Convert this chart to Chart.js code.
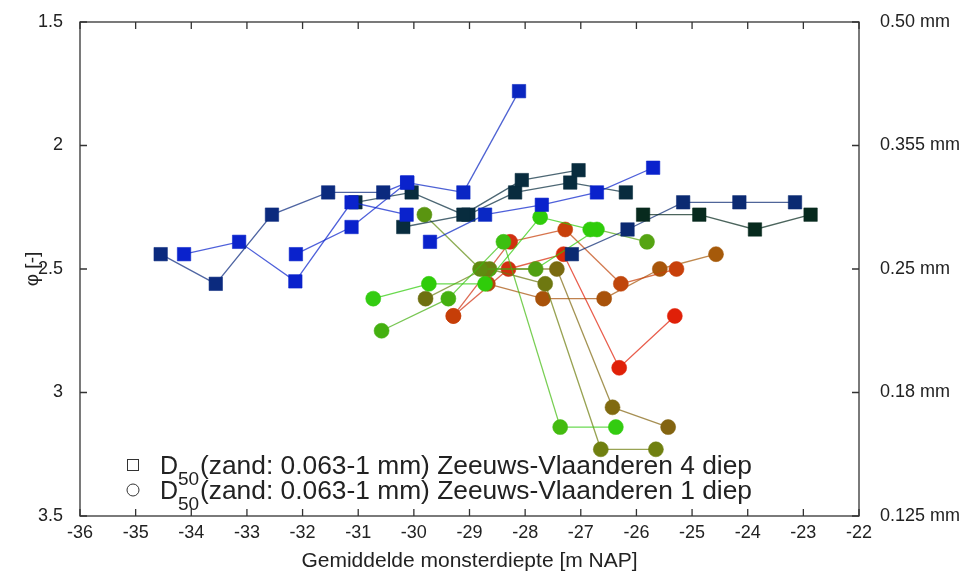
<!DOCTYPE html>
<html>
<head>
<meta charset="utf-8">
<title>D50 Zeeuws-Vlaanderen</title>
<script src="https://cdn.jsdelivr.net/npm/chart.js"></script>
<style>
  html, body { margin: 0; padding: 0; background: #fff; }
  #chart { display: block; }
</style>
</head>
<body>
<canvas id="chart" width="970" height="579"></canvas>
<script>
// assen
const depthTicks = [-36, -35, -34, -33, -32, -31, -30, -29, -28, -27, -26, -25, -24, -23, -22];
const phiTicks = [1.5, 2, 2.5, 3, 3.5];
const mmLabels = ['0.50 mm', '0.355 mm', '0.25 mm', '0.18 mm', '0.125 mm'];
const legendText = ['(zand: 0.063-1 mm) Zeeuws-Vlaanderen 4 diep', '(zand: 0.063-1 mm) Zeeuws-Vlaanderen 1 diep'];

// Zeeuws-Vlaanderen 4 diep (vierkantjes): diepte [m NAP] en phi
const sqA_x = [-34.55, -33.56, -32.55, -31.54, -30.55, -30.12, -29.11, -28.11];
const sqA_y = [2.44, 2.56, 2.28, 2.19, 2.19, 2.15, 2.19, 1.78];
const sqB_x = [-34.13, -33.14, -32.13, -31.12, -30.13];
const sqB_y = [2.44, 2.39, 2.55, 2.23, 2.28];
const sqC_x = [-32.12, -31.12, -30.12];
const sqC_y = [2.44, 2.33, 2.15];
const sqD_x = [-29.71, -28.72, -27.70, -26.71, -25.70];
const sqD_y = [2.39, 2.28, 2.24, 2.19, 2.09];
const sqE_x = [-31.05, -30.04, -29.11, -28.06, -27.04];
const sqE_y = [2.23, 2.19, 2.28, 2.14, 2.10];
const sqF_x = [-30.19, -29.02, -28.18, -27.19, -26.19];
const sqF_y = [2.33, 2.28, 2.19, 2.15, 2.19];
const sqG_x = [-25.88, -24.87, -23.87, -22.87];
const sqG_y = [2.28, 2.28, 2.34, 2.28];
const sqH_x = [-27.16, -26.16, -25.16, -24.15, -23.15];
const sqH_y = [2.44, 2.34, 2.23, 2.23, 2.23];

// Zeeuws-Vlaanderen 1 diep (rondjes)
const ciG1_x = [-30.73, -29.73, -28.72, -27.73, -26.83];
const ciG1_y = [2.62, 2.56, 2.56, 2.29, 2.34];
const ciG2_x = [-30.58, -29.38, -28.39, -27.37, -26.37];
const ciG2_y = [2.75, 2.62, 2.39, 3.14, 3.14];
const ciO1_x = [-29.81, -28.81, -27.81, -26.71, -25.81];
const ciO1_y = [2.28, 2.50, 2.50, 2.34, 2.39];
const ciOL_x = [-28.64, -27.64, -26.64, -25.65];
const ciOL_y = [2.50, 2.56, 3.23, 3.23];
const ciOB_x = [-29.79, -28.74, -27.43, -26.43, -25.43];
const ciOB_y = [2.62, 2.50, 2.50, 3.06, 3.14];
const ciR1_x = [-29.29, -28.27, -27.28, -26.28, -25.28];
const ciR1_y = [2.69, 2.39, 2.34, 2.56, 2.50];
const ciR2_x = [-29.29, -28.30, -27.31, -26.31, -25.31];
const ciR2_y = [2.69, 2.50, 2.44, 2.90, 2.69];
const ciB1_x = [-28.67, -27.68, -26.58, -25.58, -24.57];
const ciB1_y = [2.56, 2.62, 2.62, 2.50, 2.44];

// kleuren per punt
const navy = '#0b2a7e', blue = '#0a22cc', dark = '#082c3e', darkGreen = '#072a1e';
const colA = [navy, navy, navy, navy, navy, blue, '#0a26c4', '#0a26c0'];
const colB = [blue, blue, blue, blue, blue];
const colC = [blue, blue, blue];
const colD = [blue, '#0a28c4', blue, blue, blue];
const colE = [dark, dark, dark, dark, dark];
const colF = [dark, dark, dark, dark, dark];
const colG = [darkGreen, darkGreen, darkGreen, darkGreen];
const colH = ['#0b2a72', '#0b2a72', '#0b2a72', '#0b2a72', '#0b2a72'];
const colG1 = ['#33cc11', '#2fcc0a', '#2fcc0a', '#2fcc0a', '#2fcc0a'];
const colG2 = ['#44b010', '#44b010', '#3cbf10', '#44bb10', '#33cc11'];
const colO1 = ['#5a9510', '#5f8c10', '#50a012', '#2fcc0a', '#55a412'];
const colOL = ['#6a8010', '#6e7810', '#708010', '#708010'];
const colOB = ['#6e7010', '#6a8010', '#7a6a10', '#806a10', '#836410'];
const colR1 = ['#c63e08', '#d03010', '#c8400a', '#c0460c', '#c8400a'];
const colR2 = ['#c63e08', '#d03010', '#d82a08', '#e02008', '#e02008'];
const colB1 = ['#b04a0a', '#a8520a', '#a8520a', '#a8560a', '#a65a0a'];

const family = "'Liberation Sans', Arial, sans-serif";
Chart.defaults.font.family = family;
Chart.defaults.color = '#222';

function fade(hex, a) {
    const n = parseInt(hex.slice(1), 16);
    return 'rgba(' + (n >> 16) + ',' + ((n >> 8) & 255) + ',' + (n & 255) + ',' + a + ')';
}

function series(xs, ys, cols, style) {
    return {
        data: xs.map((x, i) => ({x: x, y: ys[i]})),
        showLine: true,
        pointStyle: style,
        pointRadius: style === 'rect' ? 9.5 : 7.5,
        pointHoverRadius: style === 'rect' ? 9.5 : 7.5,
        pointBackgroundColor: cols,
        pointBorderColor: cols.map(c => fade(c, 0.55)),
        pointBorderWidth: 1,
        borderWidth: 1.3,
        borderColor: fade(cols[0], 0.75),
        segment: { borderColor: s => fade(cols[s.p1DataIndex], 0.72) }
    };
}

// eerste datasets worden bovenop getekend
const datasets = [
    series(sqA_x, sqA_y, colA, 'rect'),
    series(sqB_x, sqB_y, colB, 'rect'),
    series(sqC_x, sqC_y, colC, 'rect'),
    series(sqD_x, sqD_y, colD, 'rect'),
    series(sqE_x, sqE_y, colE, 'rect'),
    series(sqF_x, sqF_y, colF, 'rect'),
    series(sqG_x, sqG_y, colG, 'rect'),
    series(sqH_x, sqH_y, colH, 'rect'),
    series(ciG1_x, ciG1_y, colG1, 'circle'),
    series(ciG2_x, ciG2_y, colG2, 'circle'),
    series(ciO1_x, ciO1_y, colO1, 'circle'),
    series(ciOL_x, ciOL_y, colOL, 'circle'),
    series(ciOB_x, ciOB_y, colOB, 'circle'),
    series(ciR1_x, ciR1_y, colR1, 'circle'),
    series(ciR2_x, ciR2_y, colR2, 'circle'),
    series(ciB1_x, ciB1_y, colB1, 'circle')
];

// kader met tickmarks naar binnen (matlab stijl)
const frame = {
    id: 'frame',
    beforeDatasetsDraw(chart) {
        const {ctx, chartArea: a, scales: {x, y}} = chart;
        ctx.save();
        ctx.strokeStyle = '#333';
        ctx.lineWidth = 1.3;
        ctx.strokeRect(a.left, a.top, a.right - a.left, a.bottom - a.top);
        ctx.beginPath();
        x.ticks.forEach(t => {
            const px = x.getPixelForValue(t.value);
            ctx.moveTo(px, a.bottom); ctx.lineTo(px, a.bottom - 7);
            ctx.moveTo(px, a.top); ctx.lineTo(px, a.top + 7);
        });
        y.ticks.forEach(t => {
            const py = y.getPixelForValue(t.value);
            ctx.moveTo(a.left, py); ctx.lineTo(a.left + 7, py);
            ctx.moveTo(a.right, py); ctx.lineTo(a.right - 7, py);
        });
        ctx.stroke();
        ctx.restore();
    }
};

// legenda met D50 subscript, tekst uitgerekt tot de breedte van het origineel
const d50Legend = {
    id: 'd50Legend',
    afterDatasetsDraw(chart) {
        const {ctx, chartArea: a} = chart;
        ctx.save();
        ctx.fillStyle = '#222';
        ctx.strokeStyle = '#333';
        ctx.lineWidth = 1;
        ctx.textBaseline = 'alphabetic';
        legendText.forEach((txt, i) => {
            const cy = a.bottom - 51 + i * 25;
            const mx = a.left + 53;
            if (i === 0) {
                ctx.strokeRect(mx - 5.5, cy - 5.5, 11, 11);
            } else {
                ctx.beginPath();
                ctx.arc(mx, cy, 6, 0, Math.PI * 2);
                ctx.stroke();
            }
            ctx.font = '25px ' + family;
            ctx.fillText('D', a.left + 80, cy + 9);
            ctx.font = '19px ' + family;
            ctx.fillText('50', a.left + 98, cy + 20);
            ctx.font = '25px ' + family;
            const w = ctx.measureText(txt).width;
            ctx.save();
            ctx.translate(a.left + 120, cy + 9);
            ctx.scale(552 / w, 1);
            ctx.fillText(txt, 0, 0);
            ctx.restore();
        });
        ctx.restore();
    }
};

// labelpadding van de verticale assen niet meetellen in de layout
function noPad(s) {
    s.paddingTop = 0;
    s.paddingBottom = 0;
}

new Chart(document.getElementById('chart'), {
    type: 'scatter',
    data: { datasets: datasets },
    options: {
        responsive: false,
        animation: false,
        events: [],
        layout: { padding: { top: 22, left: 0, right: 0, bottom: 0 } },
        plugins: { legend: { display: false }, tooltip: { enabled: false } },
        scales: {
            x: {
                type: 'linear', position: 'bottom', min: -36, max: -22,
                afterBuildTicks: s => { s.ticks = depthTicks.map(v => ({value: v})); },
                afterFit: s => { s.height = 63; },
                grid: { display: false, drawTicks: false },
                border: { display: false },
                ticks: { font: { size: 18 }, padding: 6, maxRotation: 0, autoSkip: false, callback: v => String(v) },
                title: { display: true, text: 'Gemiddelde monsterdiepte [m NAP]', font: { size: 21 }, padding: { top: 0, bottom: 5 } }
            },
            y: {
                type: 'linear', position: 'left', min: 1.5, max: 3.5, reverse: true,
                afterBuildTicks: s => { s.ticks = phiTicks.map(v => ({value: v})); },
                afterFit: s => { s.width = 80; noPad(s); },
                grid: { display: false, drawTicks: false },
                border: { display: false },
                ticks: { font: { size: 18 }, padding: 17, callback: v => String(v) },
                title: { display: true, text: 'φ [-]', font: { size: 19 }, padding: { top: 21, bottom: 0 } }
            },
            y2: {
                type: 'linear', position: 'right', min: 1.5, max: 3.5, reverse: true,
                afterBuildTicks: s => { s.ticks = phiTicks.map(v => ({value: v})); },
                afterFit: s => { s.width = 111; noPad(s); },
                grid: { display: false, drawTicks: false },
                border: { display: false },
                ticks: { font: { size: 18 }, padding: 21, callback: (v, i) => mmLabels[i] }
            }
        }
    },
    plugins: [frame, d50Legend]
});
</script>
</body>
</html>
